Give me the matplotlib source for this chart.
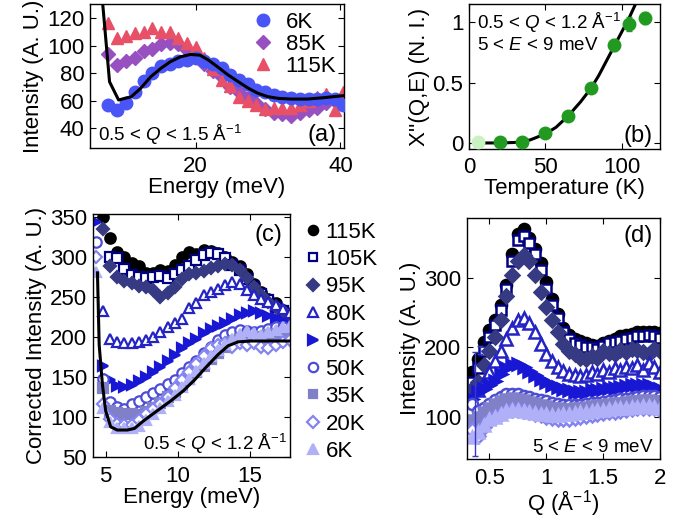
import numpy as np
import matplotlib
matplotlib.use("Agg")
import matplotlib.pyplot as plt

plt.rcParams['font.family'] = ['Liberation Sans', 'DejaVu Sans']
plt.rcParams['mathtext.fontset'] = 'custom'
plt.rcParams['mathtext.rm'] = 'Liberation Sans'
plt.rcParams['mathtext.it'] = 'Liberation Sans:italic'
plt.rcParams['mathtext.bf'] = 'Liberation Sans:bold'

nan = np.nan

# ---------------- panel (a) ----------------
Ea = [7.9, 9.2, 10.4, 11.6, 12.8, 14.0, 15.2, 16.4, 17.6, 18.8, 20.0, 21.2, 22.4, 23.6,
      24.8, 26.0, 27.2, 28.4, 29.6, 30.8, 32.0, 33.2, 34.4, 35.6, 36.8, 38.0, 39.2, 40.4]
a_6K = [57, 53, 58, 66, 74, 80, 85, 87, 89, 90, 91, 89, 87, 84, 79, 75, 72, 68, 66, 64,
        63, 62, 61, 61, 61, 62, 61, 57]
a_85K = [94, 86, 89, 91, 96, 98, 101, 102, 101, 97, 93, 87, 82, 77, 70, 66, 62, 58, 54, 51,
         50, 49, 51, 53, 55, 58, 60, 61]
a_115K = [117, 106, 107, 109, 110, 113, 110, 110, 106, 102, 99, 91, 83, 75, 71, 63, 60, 57,
          54, 55, 55, 55, 57, 60, 63, 65, 53, 66]
a_fit_E = [7.0, 8.1, 9.35, 11.1, 12.4, 13.8, 15.2, 16.5, 17.9, 19.3, 20.6, 21.8, 23.2, 24.5,
           25.9, 27.3, 28.6, 30.0, 31.4, 33.2, 35.5, 37.7, 40.3]
a_fit_I = [140, 73.8, 60.5, 62.9, 69, 77.5, 83.6, 88.4, 92, 93.7, 93.2, 89.5, 84, 78.7,
           73.8, 69, 65.4, 62.9, 61.7, 61.2, 61.2, 62.2, 63.6]

# ---------------- panel (b) ----------------
Tb = [6, 20, 35, 50, 65, 80, 95, 105, 115]
chi_b = [0.005, 0.005, 0.01, 0.08, 0.225, 0.455, 0.81, 0.985, 1.035]
chi_err = [0.0, 0.0, 0.0, 0.0, 0.0, 0.0, 0.05, 0.06, 0.05]
b_fit_T = [6, 20, 30, 40, 50, 57, 65, 73, 80, 85, 90, 95, 100, 105, 109]
b_fit_y = [0.0, 0.0, 0.004, 0.025, 0.075, 0.13, 0.225, 0.34, 0.455, 0.56, 0.68, 0.80,
           0.92, 1.04, 1.15]

# ---------------- panel (c) ----------------
temps = ['115K', '105K', '95K', '80K', '65K', '50K', '35K', '20K', '6K']
Ec = [4.3, 4.8, 5.3, 5.8, 6.3, 6.8, 7.3, 7.8, 8.3, 8.8, 9.3, 9.8, 10.3, 10.8, 11.3, 11.8,
      12.3, 12.8, 13.3, 13.8, 14.3, 14.8, 15.3, 15.8, 16.3, 16.8, 17.3, 17.8]
c_115K = [nan, 350, 323, 306, 300, 292, 288, 280, 280, 284, 282, 290, 300, 306, 304, 309,
          307, 305, 300, 294, 289, 278, 266, 256, 248, 242, 234, 228]
c_105K = [nan, nan, 300, 299, 285, 277, 275, 273, 275, 276, 274, 279, 284, 289, 296, 302,
          305, 304, 298, 290, 283, 272, 262, 254, 246, 238, 232, 225]
c_95K = [nan, 335, 288, 275, 270, 267, 264, 262, 258, 250, 255, 262, 272, 278, 280, 282,
         286, 289, 291, 290, 283, 274, 262, 252, 244, 238, 232, 226]
c_80K = [nan, 232, 198, 194, 192, 193, 194, 196, 200, 206, 213, 218, 222, 236, 242, 252,
         256, 260, 265, 268, 266, 258, 252, 248, 244, 240, 235, 230]
c_65K = [344, 164, 146, 139, 138, 140, 145, 150, 156, 162, 170, 178, 186, 192, 198, 205,
         210, 214, 218, 222, 227, 230, 232, 230, 226, 224, 220, 212]
c_50K = [319, 148, 119, 113, 110, 116, 120, 125, 130, 135, 141, 147, 155, 163, 170, 180,
         188, 196, 203, 206, 209, 208, 206, 207, 210, 213, 212, 209]
c_35K = [nan, 136, 108, 105, 104, 104, 103, 106, 112, 118, 125, 132, 140, 148, 156, 164,
         172, 180, 188, 194, 197, 198, 199, 200, 202, 204, 205, 206]
c_20K = [300, 117, 98, 92, 90, 90, 96, 104, 110, 117, 125, 136, 146, 156, 166, 176, 186,
         190, 192, 188, 192, 190, 192, 188, 186, 190, 194, 196]
c_6K = [281, 112, 94, 86, 86, 86, 89, 96, 104, 112, 120, 128, 138, 148, 158, 167, 176,
        184, 191, 198, 204, 207, 205, 203, 206, 209, 212, 214]
c_fit_E = [4.43, 4.55, 4.78, 5.0, 5.35, 5.8, 6.5, 7.0, 7.6, 8.5, 9.5, 10.4, 11.2, 11.9,
           12.8, 13.5, 14.2, 15.1, 17.8]
c_fit_I = [280, 190, 140, 108, 88, 84, 84, 86, 95, 107, 120, 133, 147, 161, 178, 189, 194,
           195, 195]

# ---------------- panel (d) ----------------
Qd = [0.35, 0.40, 0.45, 0.50, 0.55, 0.60, 0.65, 0.70, 0.75, 0.80, 0.85, 0.90, 0.95, 1.00,
      1.05, 1.10, 1.15, 1.20, 1.25, 1.30, 1.35, 1.40, 1.45, 1.50, 1.55, 1.60, 1.65, 1.70,
      1.75, 1.80, 1.85, 1.90, 1.95, 2.00]
d_115K = [165, 184, 208, 225, 240, 262, 290, 335, 365, 372, 358, 342, 322, 295, 270, 248,
          228, 218, 212, 210, 206, 204, 202, 206, 210, 212, 216, 218, 220, 222, 222, 223,
          222, 221]
d_105K = [150, 170, 195, 215, 232, 255, 285, 325, 355, 362, 352, 335, 312, 285, 262, 242,
          222, 212, 206, 204, 200, 200, 198, 202, 206, 208, 210, 212, 214, 216, 216, 218,
          216, 214]
d_95K = [140, 150, 175, 195, 215, 240, 275, 305, 325, 334, 325, 305, 280, 258, 240, 222,
         205, 195, 190, 185, 184, 188, 185, 195, 192, 190, 196, 194, 198, 196, 193, 190,
         198, 195]
d_80K = [125, 138, 150, 165, 180, 195, 212, 228, 240, 242, 236, 222, 205, 190, 180, 172,
         166, 162, 160, 158, 160, 164, 162, 168, 165, 170, 168, 172, 170, 175, 168, 178,
         172, 165]
d_65K = [125, 135, 140, 145, 152, 162, 170, 174, 176, 172, 166, 160, 155, 150, 146, 143,
         140, 138, 136, 135, 136, 138, 139, 140, 141, 142, 143, 144, 145, 146, 146, 145,
         143, 140]
d_50K = [118, 108, 112, 118, 124, 128, 132, 133, 132, 130, 128, 126, 124, 122, 120, 118,
         117, 116, 116, 117, 118, 119, 120, 121, 122, 124, 125, 126, 127, 128, 129, 130,
         129, 128]
d_35K = [95, 100, 106, 112, 118, 122, 126, 127, 126, 124, 121, 119, 117, 115, 113, 112,
         111, 111, 112, 113, 114, 115, 116, 117, 118, 119, 120, 121, 122, 123, 124, 124,
         123, 122]
d_20K = [80, 72, 85, 95, 100, 104, 108, 110, 110, 108, 106, 104, 102, 100, 98, 97, 96, 97,
         98, 100, 101, 102, 104, 105, 106, 107, 108, 110, 111, 112, 112, 113, 112, 110]
d_6K = [70, 78, 88, 96, 100, 104, 108, 110, 110, 108, 106, 105, 104, 103, 102, 102, 103,
        104, 105, 106, 107, 108, 109, 110, 111, 112, 112, 113, 114, 114, 115, 115, 114, 112]
d_err_Q = [0.37, 0.42]
d_err_I = [118, 196]
d_err = [75, 6]

# ---------------- styles ----------------
styles = {
    '115K': dict(marker='o', color='#000000', mfc='#000000'),
    '105K': dict(marker='s', color='#000080', mfc='white'),
    '95K': dict(marker='D', color='#363a82', mfc='#363a82'),
    '80K': dict(marker='^', color='#2424c4', mfc='white'),
    '65K': dict(marker='>', color='#1818d4', mfc='#1818d4'),
    '50K': dict(marker='o', color='#4c4cd6', mfc='white'),
    '35K': dict(marker='s', color='#8080c8', mfc='#8080c8'),
    '20K': dict(marker='D', color='#8484f0', mfc='white'),
    '6K': dict(marker='^', color='#b0b0f8', mfc='#b0b0f8'),
}
msize = {'o': 7.5, 's': 6.5, 'D': 6.5, '^': 7.5, '>': 7.5}
c_series = [c_115K, c_105K, c_95K, c_80K, c_65K, c_50K, c_35K, c_20K, c_6K]
d_series = [d_115K, d_105K, d_95K, d_80K, d_65K, d_50K, d_35K, d_20K, d_6K]

FS = 16
AFS = 13.5
LFS = 17
W, H = 689, 528
fig = plt.figure(figsize=(W / 100, H / 100), dpi=100)


def box(l, r, t, b):
    return [l / W, 1 - b / H, (r - l) / W, (b - t) / H]


def style_ax(ax):
    ax.tick_params(direction='in', top=True, right=True, labelsize=FS, length=4,
                   width=0.8, pad=4)
    ax.tick_params(axis='x', pad=6)
    for s in ax.spines.values():
        s.set_linewidth(1.0)


# (a)
axa = fig.add_axes(box(90, 344, 4, 148))
axa.plot(Ea, a_85K, linestyle='none', marker='D', ms=7.5, color='#9850c0', mec='#9850c0',
         label='85K', zorder=2)
axa.plot(Ea, a_115K, linestyle='none', marker='^', ms=9, color='#e85068', mec='#e85068',
         label='115K', zorder=2)
axa.plot(Ea, a_6K, linestyle='none', marker='o', ms=9, color='#4a55f5', mec='#4a55f5',
         label='6K', zorder=3)
axa.plot(a_fit_E, a_fit_I, color='black', lw=2.2, zorder=4)
axa.set_xlim(5.4, 40.5)
axa.set_ylim(25.5, 130.5)
axa.set_xticks([20, 40])
axa.set_yticks([40, 60, 80, 100, 120])
style_ax(axa)
axa.set_xlabel('Energy (meV)', fontsize=FS, labelpad=0)
axa.set_ylabel('Intensity (A. U.)', fontsize=FS, labelpad=2)
h, l = axa.get_legend_handles_labels()
order = [2, 0, 1]
axa.legend([h[i] for i in order], [l[i] for i in order], loc='upper right',
           frameon=False, fontsize=FS, handlelength=1.0, handletextpad=0.5,
           labelspacing=0.05, borderaxespad=0.15, borderpad=0.2)
axa.text(0.03, 0.05, r'0.5 < $Q$ < 1.5 Å$^{-1}$', transform=axa.transAxes, fontsize=AFS)
axa.text(0.97, 0.05, '(a)', transform=axa.transAxes, fontsize=LFS, ha='right')

# (b)
axb = fig.add_axes(box(469, 660, 4, 149))
axb.plot(b_fit_T, b_fit_y, color='black', lw=2.2, zorder=2)
axb.errorbar(Tb[1:], chi_b[1:], yerr=chi_err[1:], fmt='o', ms=9, color='#229a22',
             mec='#229a22', ecolor='#229a22', elinewidth=1, capsize=2, zorder=3)
axb.plot(Tb[:1], chi_b[:1], 'o', ms=9, color='#c8f2c0', mec='#c8f2c0', zorder=3)
axb.set_xlim(0, 125)
axb.set_ylim(-0.05, 1.15)
axb.set_xticks([0, 50, 100])
axb.set_yticks([0, 0.5, 1])
axb.set_yticklabels(['0', '0.5', '1'])
style_ax(axb)
axb.set_xlabel('Temperature (K)', fontsize=FS, labelpad=0)
axb.set_ylabel("Χ''(Q,E) (N. I.)", fontsize=FS, labelpad=2)
axb.text(0.04, 0.95, r'0.5 < $Q$ < 1.2 Å$^{-1}$', transform=axb.transAxes, fontsize=AFS,
         va='top')
axb.text(0.04, 0.77, r'5 < $E$ < 9 meV', transform=axb.transAxes, fontsize=AFS, va='top')
axb.text(0.96, 0.05, '(b)', transform=axb.transAxes, fontsize=LFS, ha='right')

# (c)
axc = fig.add_axes(box(92.7, 290, 214.3, 457.3))
for t, y in zip(temps, c_series):
    st = styles[t]
    axc.plot(Ec, y, linestyle='none', marker=st['marker'], ms=msize[st['marker']],
             color=st['color'], mfc=st['mfc'], mec=st['color'], mew=1.6, label=t)
axc.plot(c_fit_E, c_fit_I, color='black', lw=2.2, zorder=5)
axc.set_xlim(4.1, 17.8)
axc.set_ylim(50, 353)
axc.set_xticks([5, 10, 15])
axc.set_yticks([50, 100, 150, 200, 250, 300, 350])
style_ax(axc)
axc.set_xlabel('Energy (meV)', fontsize=FS, labelpad=0)
axc.set_ylabel('Corrected Intensity (A. U.)', fontsize=FS, labelpad=2)
axc.text(0.96, 0.96, '(c)', transform=axc.transAxes, fontsize=LFS, ha='right', va='top')
axc.text(0.985, 0.03, r'0.5 < $Q$ < 1.2 Å$^{-1}$', transform=axc.transAxes, fontsize=AFS,
         ha='right')
axc.legend(loc='upper left', bbox_to_anchor=(1.09, 0.97), frameon=False, fontsize=FS,
           handlelength=0.5, handletextpad=0.3, labelspacing=0.29, borderaxespad=0.0,
           borderpad=0.0, markerscale=0.9)

# (d)
axd = fig.add_axes(box(466.7, 660, 217.7, 459.3))
for t, y in zip(temps, d_series):
    st = styles[t]
    axd.plot(Qd, y, linestyle='none', marker=st['marker'], ms=msize[st['marker']] + 0.5,
             color=st['color'], mfc=st['mfc'], mec=st['color'], mew=1.8)
axd.errorbar(d_err_Q, d_err_I, yerr=d_err, fmt='none', ecolor='#3838c0', elinewidth=1,
             capsize=2, zorder=6)
axd.set_xlim(0.3, 2.0)
axd.set_ylim(38, 388)
axd.set_xticks([0.5, 1, 1.5, 2])
axd.set_xticklabels(['0.5', '1', '1.5', '2'])
axd.set_yticks([100, 200, 300])
style_ax(axd)
axd.set_xlabel('Q (Å$^{-1}$)', fontsize=FS, labelpad=0)
axd.set_ylabel('Intensity (A. U.)', fontsize=FS, labelpad=2)
axd.text(0.96, 0.97, '(d)', transform=axd.transAxes, fontsize=LFS, ha='right', va='top')
axd.text(0.97, 0.03, r'5 < $E$ < 9 meV', transform=axd.transAxes, fontsize=AFS, ha='right')

fig.savefig('out.png', dpi=100)
